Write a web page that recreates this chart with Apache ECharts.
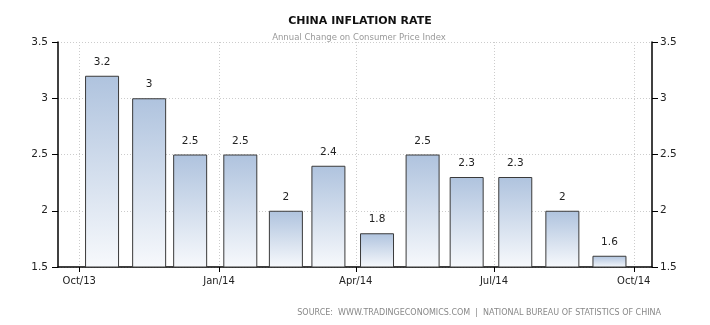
<!DOCTYPE html>
<html>
<head>
<meta charset="utf-8">
<script src="https://cdn.jsdelivr.net/npm/echarts@6/dist/echarts.min.js"></script>
<style>html,body{margin:0;padding:0;background:#fff}#c{width:710px;height:325px}</style>
</head>
<body>
<div id="c"></div>
<script>
// Data
const dates = ['2013-10-16','2013-11-16','2013-12-13','2014-01-15','2014-02-14','2014-03-14','2014-04-15','2014-05-15','2014-06-13','2014-07-15','2014-08-15','2014-09-15'];
const values = [3.2, 3, 2.5, 2.5, 2, 2.4, 1.8, 2.5, 2.3, 2.3, 2, 1.6];
const tickDates = ['2013-10-01','2014-01-01','2014-04-01','2014-07-01','2014-10-01'];
const yTicks = [1.5, 2, 2.5, 3, 3.5];
const titleText = 'CHINA INFLATION RATE';
const subtitleText = 'Annual Change on Consumer Price Index';
const sourceText = 'SOURCE:  WWW.TRADINGECONOMICS.COM  |  NATIONAL BUREAU OF STATISTICS OF CHINA';
const monthNames = ['Jan','Feb','Mar','Apr','May','Jun','Jul','Aug','Sep','Oct','Nov','Dec'];

function ts(s){ const p = s.split('-').map(Number); return Date.UTC(p[0], p[1]-1, p[2]); }
const tickTs = tickDates.map(ts);
const FONT = 'DejaVu Sans';

const chart = echarts.init(document.getElementById('c'), null, {renderer:'canvas'});
const yAxisCommon = {
  type:'value', min:yTicks[0], max:yTicks[yTicks.length-1], interval:0.5,
  axisLine:{show:true, lineStyle:{color:'#000', width:1.5}},
  axisTick:{show:true, length:6, lineStyle:{color:'#000', width:1}},
  axisLabel:{color:'#222', fontFamily:FONT, fontSize:10.5,
    formatter: v => String(+v.toFixed(1))},
};
chart.setOption({
  animation:false,
  textStyle:{fontFamily:FONT},
  title:[
    {text:titleText, left:355, top:11, textAlign:'center',
     textStyle:{fontSize:11, fontWeight:'bold', color:'#111', fontFamily:FONT}},
    {text:subtitleText, left:354, top:28, textAlign:'center',
     textStyle:{fontSize:8.5, fontWeight:'normal', color:'#999', fontFamily:FONT}},
    {text:sourceText, right:44, top:304,
     textStyle:{fontSize:8, fontWeight:'normal', color:'#888', fontFamily:FONT}}
  ],
  grid:{left:58, right:58, top:42, bottom:58, containLabel:false},
  xAxis:{
    type:'value', min:ts('2013-09-17'), max:ts('2014-10-13'),
    axisLine:{show:true, onZero:false, lineStyle:{color:'#000', width:1.5}},
    axisTick:{show:true, length:5, customValues:tickTs, lineStyle:{color:'#000'}},
    axisLabel:{show:true, customValues:tickTs, color:'#222', fontFamily:FONT, fontSize:10, margin:9,
      formatter: v => { const d = new Date(v); return monthNames[d.getUTCMonth()] + '/' + String(d.getUTCFullYear()).slice(2); }},
    splitLine:{show:true, lineStyle:{color:'#ccc', type:[1,2], width:1}}
  },
  yAxis:[
    Object.assign({}, yAxisCommon, {position:'left',
      axisLabel:Object.assign({}, yAxisCommon.axisLabel, {margin:10}),
      splitLine:{show:true, lineStyle:{color:'#ccc', type:[1,2], width:1}}}),
    Object.assign({}, yAxisCommon, {position:'right',
      axisLabel:Object.assign({}, yAxisCommon.axisLabel, {margin:8}),
      splitLine:{show:false}})
  ],
  series:[{
    type:'bar', barWidth:34,
    data: dates.map((d,i)=>[ts(d), values[i]]),
    itemStyle:{
      borderColor:'#3a3a3a', borderWidth:1,
      color:new echarts.graphic.LinearGradient(0,0,0,1,[{offset:0,color:'#afc3de'},{offset:1,color:'#f7f9fc'}])
    },
    label:{show:true, position:'top', distance:8, color:'#222', fontFamily:FONT, fontSize:10.5,
      formatter: p => String(p.value[1])}
  }]
});
</script>
</body>
</html>
